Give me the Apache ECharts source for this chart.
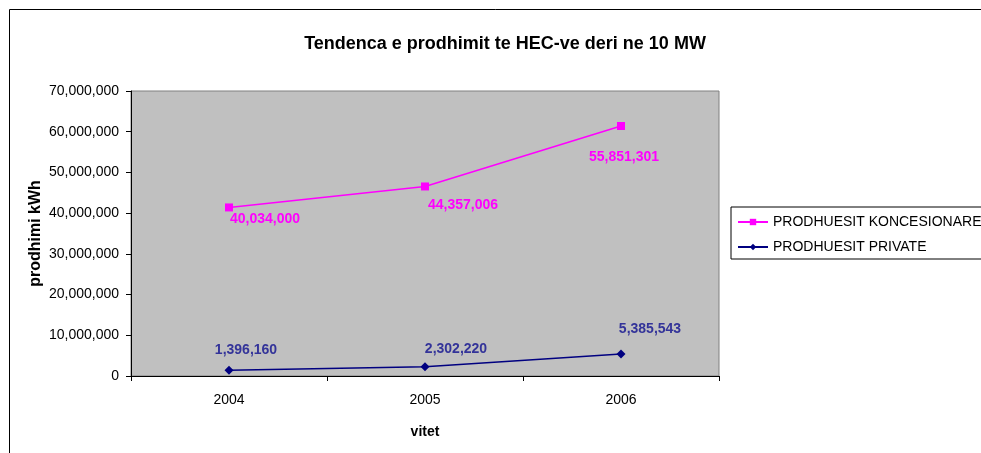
<!DOCTYPE html>
<html>
<head>
<meta charset="utf-8">
<script src="https://cdn.jsdelivr.net/npm/echarts@6/dist/echarts.min.js"></script>
<style>html,body{margin:0;padding:0;background:#fff}#c{width:981px;height:453px}</style>
</head>
<body>
<div id="c"></div>
<script>
const categories = ['2004', '2005', '2006'];
const seriesNames = ['PRODHUESIT KONCESIONARE', 'PRODHUESIT PRIVATE'];
const koncesionareValues = [41400000, 46550000, 61400000];
const koncesionareLabels = ['40,034,000', '44,357,006', '55,851,301'];
const privateValues = [1396160, 2302220, 5385543];
const privateLabels = ['1,396,160', '2,302,220', '5,385,543'];
const yTicks = [0, 10000000, 20000000, 30000000, 40000000, 50000000, 60000000, 70000000];

const pinkOffsets = [[36, 12], [38, 19], [3, 31]];
const blueOffsets = [[17, -20], [31, -17], [29, -25]];

function mk(values, labels, offsets) {
  return values.map((v, i) => ({
    value: v,
    label: { formatter: labels[i], offset: offsets[i] }
  }));
}

const chart = echarts.init(document.getElementById('c'), null, { renderer: 'canvas' });
const font = 'Arial, "Liberation Sans", sans-serif';
chart.setOption({
  animation: false,
  backgroundColor: '#fff',
  textStyle: { fontFamily: font },
  title: {
    text: 'Tendenca e prodhimit te HEC-ve deri ne 10 MW',
    left: 500, top: 30, textAlign: 'center',
    textStyle: { fontFamily: font, fontSize: 18, fontWeight: 'bold', color: '#000' }
  },
  graphic: [{
    type: 'rect', shape: { x: 9.5, y: 9.5, width: 1100, height: 600 },
    style: { fill: 'none', stroke: '#000', lineWidth: 1 }, silent: true
  }],
  legend: {
    orient: 'vertical', left: 731, top: 207,
    borderColor: '#000', borderWidth: 1,
    padding: [8, 40, 5, 6], itemGap: 11,
    itemWidth: 30, itemHeight: 8,
    textStyle: { fontFamily: font, fontSize: 14, color: '#000' },
    data: seriesNames
  },
  grid: {
    left: 131, top: 91, right: 262, bottom: 77,
    show: true, backgroundColor: '#C0C0C0', borderColor: '#808080', borderWidth: 1
  },
  xAxis: {
    type: 'category', data: categories, boundaryGap: true,
    name: 'vitet', nameLocation: 'middle', nameGap: 49,
    nameTextStyle: { fontFamily: font, fontSize: 14, fontWeight: 'bold', color: '#000' },
    axisLine: { lineStyle: { color: '#000', width: 1 } },
    axisTick: { show: true, length: 5, lineStyle: { color: '#000' } },
    axisLabel: { fontFamily: font, fontSize: 14, color: '#000', margin: 17 },
    splitLine: { show: false }
  },
  yAxis: {
    type: 'value', min: 0, max: 70000000, interval: 10000000,
    name: 'prodhimi kWh', nameLocation: 'middle', nameGap: 87, nameMoveOverlap: false,
    nameTextStyle: { fontFamily: font, fontSize: 16, fontWeight: 'bold', color: '#000' },
    axisLine: { show: true, lineStyle: { color: '#000', width: 1 } },
    axisTick: { show: true, length: 5, lineStyle: { color: '#000' } },
    axisLabel: {
      fontFamily: font, fontSize: 14, color: '#000', margin: 12,
      formatter: v => yTicks.indexOf(v) >= 0 ? v.toLocaleString('en-US') : ''
    },
    splitLine: { show: false }
  },
  series: [{
    name: seriesNames[0], type: 'line',
    data: mk(koncesionareValues, koncesionareLabels, pinkOffsets),
    symbol: 'rect', symbolSize: 8,
    lineStyle: { color: '#FF00FF', width: 1.5 },
    itemStyle: { color: '#FF00FF' },
    label: {
      show: true, position: 'inside', align: 'center', verticalAlign: 'middle',
      fontFamily: font, fontSize: 14, fontWeight: 'bold', color: '#FF00FF'
    }
  }, {
    name: seriesNames[1], type: 'line',
    data: mk(privateValues, privateLabels, blueOffsets),
    symbol: 'diamond', symbolSize: 9,
    lineStyle: { color: '#000080', width: 1.5 },
    itemStyle: { color: '#000080' },
    label: {
      show: true, position: 'inside', align: 'center', verticalAlign: 'middle',
      fontFamily: font, fontSize: 14, fontWeight: 'bold', color: '#333399'
    }
  }]
});
</script>
</body>
</html>
